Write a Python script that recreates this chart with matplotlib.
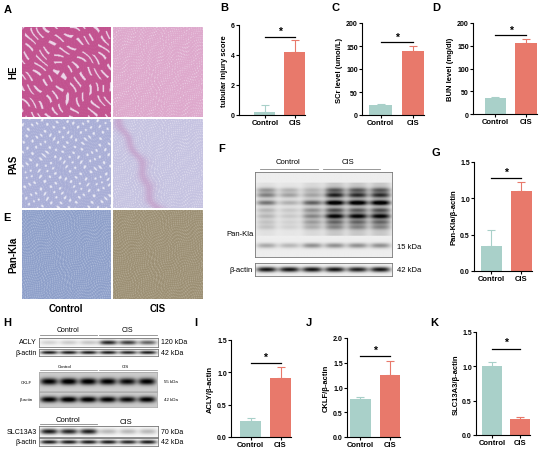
import numpy as np
import matplotlib
matplotlib.use("Agg")
import matplotlib.pyplot as plt
from matplotlib.lines import Line2D

plt.rcParams['font.family'] = ['Liberation Sans', 'DejaVu Sans']

W, H = 550, 456
fig = plt.figure(figsize=(W / 100, H / 100), dpi=100)
fig.patch.set_facecolor('white')

TEAL = '#a9d0c9'
RED = '#e8796b'

# ---------------- data ----------------
groups = ['Control', 'CIS']

tubular_score = [0.2, 4.2]
tubular_err = [0.45, 0.8]

scr_level = [21, 140]
scr_err = [2, 11]

bun_level = [35, 157]
bun_err = [1.5, 8]

pankla_ratio = [0.35, 1.1]
pankla_err = [0.21, 0.13]

acly_ratio = [0.25, 0.91]
acly_err = [0.04, 0.165]

cklf_ratio = [0.76, 1.26]
cklf_err = [0.05, 0.28]

slc_ratio = [1.0, 0.23]
slc_err = [0.06, 0.03]

# western blot band positions (fraction of strip height) and darkness per lane
pankla_rows = [0.21, 0.27, 0.36, 0.45, 0.52, 0.59, 0.65, 0.87]
pankla_bands = [
    [0.30, 0.20, 0.15, 0.45, 0.45, 0.45],
    [0.40, 0.28, 0.22, 0.70, 0.65, 0.65],
    [0.45, 0.22, 0.50, 0.95, 0.95, 0.95],
    [0.18, 0.12, 0.30, 0.50, 0.45, 0.50],
    [0.18, 0.12, 0.35, 0.85, 0.85, 0.85],
    [0.12, 0.08, 0.25, 0.40, 0.40, 0.40],
    [0.12, 0.08, 0.18, 0.28, 0.28, 0.28],
    [0.28, 0.22, 0.38, 0.38, 0.38, 0.38],
]
actin_bands = [0.9, 0.9, 0.9, 0.9, 0.85, 0.9]
acly_bands = [0.15, 0.18, 0.2, 0.85, 0.75, 0.6]
cklf_bands = [0.85, 0.9, 0.88, 0.85, 0.8, 0.85]
slc_bands = [0.9, 0.85, 0.88, 0.25, 0.25, 0.25]


def px_axes(x0, y0, x1, y1):
    return fig.add_axes([x0 / W, 1 - y1 / H, (x1 - x0) / W, (y1 - y0) / H])


def T(x, y, s, size=5, weight='normal', **kw):
    kw.setdefault('ha', 'center')
    kw.setdefault('va', 'center')
    fig.text(x / W, 1 - y / H, s, fontsize=size, fontweight=weight, **kw)


def hline(x0, x1, y, color='#888888', lw=0.6):
    fig.add_artist(Line2D([x0 / W, x1 / W], [1 - y / H, 1 - y / H],
                          transform=fig.transFigure, color=color, lw=lw))


# ---------------- histology panels ----------------
def tissue(kind, n=180):
    yy, xx = np.mgrid[0:n, 0:n].astype(float)
    # warped coordinates give an irregular, tissue-like texture
    wx = xx + 6 * np.sin(0.045 * yy + 0.8) + 4 * np.sin(0.11 * yy + 0.03 * xx)
    wy = yy + 6 * np.sin(0.05 * xx + 2.1) + 4 * np.sin(0.13 * xx - 0.04 * yy)
    mottle = (np.sin(0.9 * wx + 0.4 * wy) * np.sin(0.8 * wy - 0.3 * wx)
              + 0.6 * np.sin(1.3 * wx - 0.7 * wy + 1.0) * np.sin(0.5 * wy + 0.2 * wx))
    if kind == 'he_ctrl':
        base = np.array([0.76, 0.32, 0.56])
        light = np.array([0.94, 0.88, 0.94])
        u = 0.75 * wx - 0.66 * wy
        v = 0.66 * wx + 0.75 * wy
        s1 = np.sin(0.42 * u + 2.5 * np.sin(0.035 * v)) > 0.72
        s2 = np.sin(0.2 * v + 2.0 * np.sin(0.05 * u + 0.6)) > -0.35
        m = (s1 & s2).astype(float) * 0.9 + 0.08 * np.clip(mottle, 0, 1)
    elif kind == 'he_cis':
        base = np.array([0.87, 0.66, 0.80])
        light = np.array([0.95, 0.90, 0.95])
        m = np.clip((mottle - 0.3) * 0.9, 0, 1)
    elif kind == 'pas_ctrl':
        base = np.array([0.66, 0.68, 0.84])
        light = np.array([0.92, 0.92, 0.96])
        s = np.sin(0.33 * wx + 1.2) * np.sin(0.29 * wy + 0.4)
        m = np.clip((s - 0.55) * 3, 0, 1) + 0.3 * np.clip(mottle, 0, 1)
    elif kind == 'pas_cis':
        base = np.array([0.77, 0.76, 0.88])
        light = np.array([0.93, 0.92, 0.96])
        m = np.clip((mottle - 0.1) * 0.8, 0, 1)
    elif kind == 'ihc_ctrl':
        base = np.array([0.54, 0.61, 0.78])
        light = np.array([0.80, 0.84, 0.92])
        m = np.clip((mottle + 0.3) * 0.45, 0, 1)
    else:
        base = np.array([0.60, 0.55, 0.44])
        light = np.array([0.80, 0.77, 0.70])
        m = np.clip((mottle + 0.3) * 0.45, 0, 1)
    m = np.clip(m, 0, 1)
    img = base[None, None, :] * (1 - m[..., None]) + light[None, None, :] * m[..., None]
    if kind == 'pas_cis':
        band = np.exp(-((wx - 0.43 * wy - 14) / 11.0) ** 2)[..., None]
        img = img * (1 - 0.5 * band) + np.array([0.76, 0.55, 0.74]) * 0.5 * band
    return np.clip(img, 0, 1)


hist_cols = [(22, 111), (113, 203)]
hist_rows = [(28, 118), (120, 209), (211, 300)]
kinds = [['he_ctrl', 'he_cis'], ['pas_ctrl', 'pas_cis'], ['ihc_ctrl', 'ihc_cis']]
for r, (y0, y1) in enumerate(hist_rows):
    for c, (x0, x1) in enumerate(hist_cols):
        ax = px_axes(x0, y0, x1, y1)
        ax.imshow(tissue(kinds[r][c]), aspect='auto', interpolation='antialiased')
        ax.set_axis_off()

T(13, 72, 'HE', size=7, weight='bold', rotation=90)
T(13, 164, 'PAS', size=7, weight='bold', rotation=90)
T(13, 255, 'Pan-Kla', size=7, weight='bold', rotation=90)
T(66, 309, 'Control', size=7, weight='bold')
T(158, 309, 'CIS', size=7, weight='bold')

# panel letters
for letter, x, y in [('A', 8, 10), ('E', 7, 218), ('B', 224, 8), ('C', 336, 8), ('D', 436, 8),
                     ('F', 222, 149), ('G', 436, 153), ('H', 7, 323), ('I', 196, 323),
                     ('J', 309, 323), ('K', 434, 323)]:
    T(x, y, letter, size=8, weight='bold')


# ---------------- bar charts ----------------
def bar_panel(rect, vals, errs, ylim, yticks, ytl, ylabel, xleft, sig, star):
    ax = px_axes(*rect)
    cols = [TEAL, RED]
    ax.bar([0, 1], vals, width=0.7, color=cols, zorder=2)
    for i in range(2):
        ax.errorbar(i, vals[i], yerr=[[0], [errs[i]]], ecolor=cols[i], capsize=3,
                    elinewidth=0.8, capthick=0.8, zorder=1)
    ax.plot([0, 1], [sig, sig], color='black', lw=0.9, clip_on=False)
    ax.text(0.5, star, '*', ha='center', va='center', fontsize=7.5, fontweight='bold')
    ax.set_xlim(xleft, 1.35)
    ax.set_ylim(*ylim)
    ax.set_yticks(yticks)
    ax.set_yticklabels(ytl, fontsize=5, fontweight='bold')
    ax.set_xticks([0, 1])
    ax.set_xticklabels(groups, fontsize=5.5, fontweight='bold')
    ax.set_ylabel(ylabel, fontsize=5.5, fontweight='bold', labelpad=2)
    for s in ['top', 'right']:
        ax.spines[s].set_visible(False)
    for s in ['left', 'bottom']:
        ax.spines[s].set_linewidth(0.8)
    ax.tick_params(length=2, width=0.8, pad=1)
    ax.patch.set_alpha(0)
    return ax


bar_panel((239, 26, 305, 116), tubular_score, tubular_err, (0, 6), [0, 2, 4, 6],
          ['0', '2', '4', '6'], 'tubular injury score', -0.87, 5.2, 5.58)
bar_panel((362, 24, 424, 116), scr_level, scr_err, (0, 200), [0, 50, 100, 150, 200],
          ['0', '50', '100', '150', '200'], 'SCr level (umol/L)', -0.58, 158, 169)
bar_panel((473, 24, 537, 115), bun_level, bun_err, (0, 200), [0, 50, 100, 150, 200],
          ['0', '50', '100', '150', '200'], 'BUN level (mg/dl)', -0.73, 173, 185)
bar_panel((474, 163, 532, 272), pankla_ratio, pankla_err, (0, 1.5), [0, 0.5, 1.0, 1.5],
          ['0.0', '0.5', '1.0', '1.5'], 'Pan-Kla/β-actin', -0.57, 1.28, 1.37)
bar_panel((231, 341, 291, 438), acly_ratio, acly_err, (0, 1.5), [0, 0.5, 1.0, 1.5],
          ['0.0', '0.5', '1.0', '1.5'], 'ACLY/β-actin', -0.65, 1.14, 1.24)
bar_panel((347, 339, 400, 438), cklf_ratio, cklf_err, (0, 2.0), [0, 0.5, 1.0, 1.5, 2.0],
          ['0.0', '0.5', '1.0', '1.5', '2.0'], 'CKLF/β-actin', -0.46, 1.63, 1.76)
bar_panel((476, 333, 530, 436), slc_ratio, slc_err, (0, 1.5), [0, 0.5, 1.0, 1.5],
          ['0.0', '0.5', '1.0', '1.5'], 'SLC13A3/β-actin', -0.57, 1.25, 1.36)


# ---------------- western blots ----------------
def blot(rect, rows, bands, bg=0.06, band_h=0.05, smear=None, edge='#777777'):
    ax = px_axes(*rect)
    ny, nx = 80, 240
    y = np.linspace(0, 1, ny)[:, None]
    x = np.linspace(0, 1, nx)[None, :]
    n = len(bands[0])
    img = np.full((ny, nx), bg)
    for r, row in zip(rows, bands):
        for j, d in enumerate(row):
            c = (j + 0.5) / n
            lane = 1 / (1 + np.exp((np.abs(x - c) - 0.38 / n) / 0.015))
            img = img + d * np.exp(-((y - r) / band_h) ** 2) * lane
    if smear is not None:
        for j, d in enumerate(smear):
            c = (j + 0.5) / n
            lane = 1 / (1 + np.exp((np.abs(x - c) - 0.4 / n) / 0.015))
            img = img + d * ((y > 0.12) & (y < 0.75)) * lane
    img = np.clip(img, 0, 1)
    ax.imshow(1 - img, cmap='gray', vmin=0, vmax=1, aspect='auto',
              extent=[0, 1, 1, 0], interpolation='bilinear')
    ax.set_xticks([])
    ax.set_yticks([])
    for s in ax.spines.values():
        s.set_linewidth(0.6)
        s.set_color(edge)
    return ax


# F: Pan-Kla
blot((255, 173, 392, 258), pankla_rows, pankla_bands, bg=0.07, band_h=0.03,
     smear=[0.05, 0.03, 0.08, 0.15, 0.15, 0.15])
blot((255, 264, 392, 277), [0.5], [actin_bands], bg=0.05, band_h=0.2)
T(288, 163, 'Control', size=5.5)
T(348, 163, 'CIS', size=5.5)
hline(260, 318, 170)
hline(323, 380, 170)
T(240, 234, 'Pan-Kla', size=5.5)
T(253, 271, 'β-actin', size=5.5, ha='right')
T(397, 248, '15 kDa', size=5.5, ha='left')
T(397, 271, '42 kDa', size=5.5, ha='left')

# H: ACLY
T(68, 331, 'Control', size=5)
T(127, 331, 'CIS', size=5)
hline(40, 97, 336)
hline(99, 157, 336)
blot((39, 339, 158, 348), [0.5], [acly_bands], bg=0.03, band_h=0.25)
blot((39, 350, 158, 357), [0.5], [actin_bands], bg=0.03, band_h=0.25)
T(37, 343, 'ACLY', size=5, ha='right')
T(37, 354, 'β-actin', size=5, ha='right')
T(161, 343, '120 kDa', size=5, ha='left')
T(161, 354, '42 kDa', size=5, ha='left')

# H: CKLF
T(65, 367, 'Control', size=3.2)
T(125, 367, 'CIS', size=3.2)
hline(40, 97, 371, lw=0.5)
hline(99, 157, 371, lw=0.5)
blot((39, 373, 157, 392), [0.5], [cklf_bands], bg=0.2, band_h=0.18, edge='#aaaaaa')
blot((39, 393, 157, 408), [0.5], [cklf_bands], bg=0.2, band_h=0.2, edge='#aaaaaa')
T(26, 383, 'CKLF', size=3.2)
T(26, 400, 'β-actin', size=3.2)
T(164, 382, '55 kDa', size=3.2, ha='left')
T(164, 400, '42 kDa', size=3.2, ha='left')

# H: SLC13A3
T(68, 421, 'Control', size=5.5)
T(126, 423, 'CIS', size=5.5)
hline(40, 97, 425)
hline(99, 157, 427)
blot((39, 427, 158, 438), [0.5], [slc_bands], bg=0.03, band_h=0.25)
blot((39, 439, 158, 447), [0.5], [actin_bands], bg=0.03, band_h=0.25)
T(37, 433, 'SLC13A3', size=5, ha='right')
T(37, 443, 'β-actin', size=5, ha='right')
T(161, 433, '70 kDa', size=5, ha='left')
T(161, 443, '42 kDa', size=5, ha='left')

fig.savefig('out.png', dpi=100, facecolor='white')
